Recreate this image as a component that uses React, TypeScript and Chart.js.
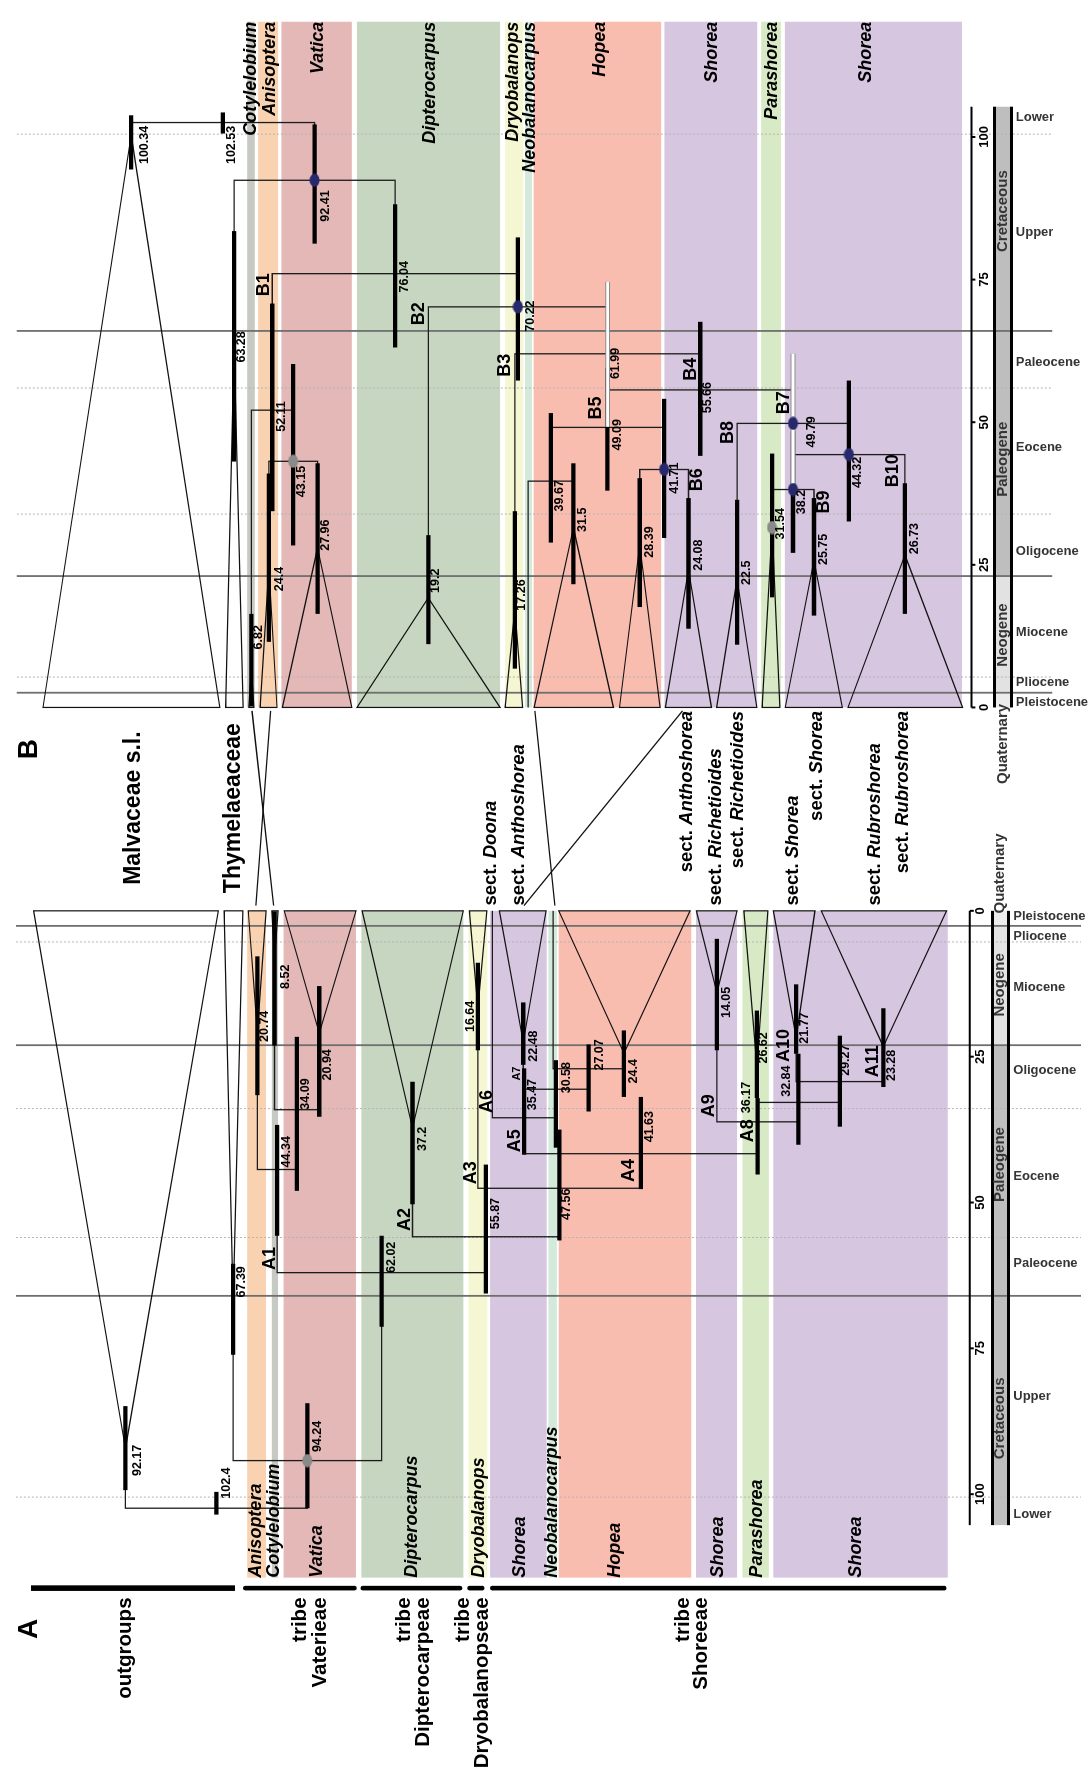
import React, { useEffect, useRef } from 'react';
import { Chart, registerables } from 'chart.js';

Chart.register(...registerables);

/* =============================== DATA (ages in Ma) =============================== */

// ---------- Panel A : collapsed clades (tips) ----------
const tipNamesA = ['Malvaceae s.l.', 'Thymelaeaceae', 'Anisoptera', 'Cotylelobium', 'Vatica', 'Dipterocarpus', 'Dryobalanops', 'Shorea sect. Doona', 'Shorea sect. Anthoshorea', 'Neobalanocarpus', 'Hopea', 'Shorea sect. Richetioides', 'Parashorea', 'Shorea sect. Shorea', 'Shorea sect. Rubroshorea'];
const tipCrownA = [92.17, 67.39, 20.74, 8.52, 20.94, 37.2, 16.64, null, 22.48, null, 24.4, 14.05, 26.62, 21.77, 23.28];
const tipHpdA = [[84.9, 99.3], [60.5, 76.1], [7.8, 31.6], [0.1, 23.1], [12.9, 35.3], [29.3, 50.3], [8.9, 23.9], null, [15.7, 26.4], null, [20.5, 31.9], [4.8, 23.9], [17.1, 32.1], [12.6, 24.5], [16.7, 30.2]];
// ---------- Panel A : internal nodes ----------
const nodeIdsA = ['root', 'n94', 'A1', 'vat', 'n34', 'A2', 'A3', 'A4', 'n35', 'n30', 'n27', 'n36', 'n32', 'n29'];
const nodeAgeA = [102.4, 94.24, 62.02, 44.34, 34.09, 55.87, 47.56, 41.63, 35.47, 30.58, 27.07, 36.17, 32.84, 29.27];
const nodeHpdA = [[99.6, 103.5], [84.4, 102.4], [55.7, 71.3], [36.7, 55.7], [21.6, 48.0], [43.5, 65.6], [37.5, 56.5], [31.9, 47.7], [27.0, 41.8], [25.6, 40.6], [22.9, 34.4], [32.1, 45.2], [24.5, 40.1], [21.4, 37.0]];
const nodeKidsA = [['t0', 'n94'], ['t1', 'A1'], ['vat', 'A2'], ['t2', 'n34'], ['t3', 't4'], ['t5', 'A3'], ['t6', 'A4'], ['n35', 'n36'], ['t7', 'n30'], ['t8', 'n27'], ['t9', 't10'], ['t11', 'n32'], ['t12', 'n29'], ['t13', 't14']];
const cladeNamesA = ['A1', 'A2', 'A3', 'A4', 'A5', 'A6', 'A7', 'A8', 'A9', 'A10', 'A11'];
const blueDotsA: string[] = [];
const greyDotsA = ['n94'];
const whiteBarsA: string[] = [];

// ---------- Panel B : collapsed clades (tips) ----------
const tipNamesB = ['Malvaceae s.l.', 'Thymelaeaceae', 'Cotylelobium', 'Anisoptera', 'Vatica', 'Dipterocarpus', 'Dryobalanops', 'Neobalanocarpus', 'Hopea I', 'Hopea II', 'Shorea sect. Anthoshorea', 'Shorea sect. Richetioides', 'Parashorea', 'Shorea sect. Shorea', 'Shorea sect. Rubroshorea'];
const tipCrownB = [100.34, 63.28, 6.82, 24.4, 27.96, 19.2, 17.26, null, 31.5, 28.39, 24.08, 22.5, 31.54, 25.75, 26.73];
const tipHpdB = [[94.3, 103.8], [43.1, 83.5], [0.2, 16.4], [11.5, 41.0], [16.4, 42.8], [11.1, 30.2], [6.8, 34.4], null, [21.6, 42.8], [17.6, 40.2], [13.8, 36.7], [11.0, 36.4], [19.3, 44.5], [16.1, 36.7], [16.4, 39.3]];
// ---------- Panel B : internal nodes ----------
const nodeIdsB = ['root', 'n92', 'B1', 'vat', 'n43', 'B2', 'B3', 'B4', 'B5', 'n39', 'n41', 'B7', 'n44', 'n38'];
const nodeAgeB = [102.53, 92.41, 76.04, 52.11, 43.15, 70.22, 61.99, 55.66, 49.09, 39.67, 41.71, 49.79, 44.32, 38.2];
const nodeHpdB = [[100.6, 104.3], [81.3, 102.2], [63.1, 88.2], [34.4, 70.8], [28.4, 60.2], [57.3, 82.4], [49.2, 74.6], [44.1, 67.6], [38.0, 59.5], [28.9, 51.6], [29.7, 54.1], [38.1, 62.0], [32.6, 57.3], [27.1, 48.5]];
const nodeKidsB = [['t0', 'n92'], ['t1', 'B1'], ['vat', 'B2'], ['t2', 'n43'], ['t3', 't4'], ['t5', 'B3'], ['t6', 'B4'], ['B5', 'B7'], ['n39', 'n41'], ['t7', 't8'], ['t9', 't10'], ['t11', 'n44'], ['n38', 't14'], ['t12', 't13']];
const cladeNamesB = ['B1', 'B2', 'B3', 'B4', 'B5', 'B6', 'B7', 'B8', 'B9', 'B10'];
const blueDotsB = ['n92', 'B2', 'n41', 'B7', 'n44', 'n38'];
const greyDotsB = ['n43', 't12'];
const whiteBarsB = ['B3', 'B7'];

// ---------- genera (coloured bands), sections, tribes ----------
const bandGeneraA = ['Anisoptera', 'Cotylelobium', 'Vatica', 'Dipterocarpus', 'Dryobalanops', 'Shorea', 'Neobalanocarpus', 'Hopea', 'Shorea', 'Parashorea', 'Shorea'];
const bandGeneraB = ['Cotylelobium', 'Anisoptera', 'Vatica', 'Dipterocarpus', 'Dryobalanops', 'Neobalanocarpus', 'Hopea', 'Shorea', 'Parashorea', 'Shorea'];
const sectionsA = ['Doona', 'Anthoshorea', 'Richetioides', 'Shorea', 'Rubroshorea'];
const sectionsB = ['Anthoshorea', 'Richetioides', 'Shorea', 'Rubroshorea'];
const familyLabels = ['Malvaceae s.l.', 'Thymelaeaceae'];
const linkedTaxa = ['Cotylelobium', 'Anisoptera', 'Neobalanocarpus', 'sect. Anthoshorea'];
const tribeLines = [['outgroups'], ['tribe', 'Vaterieae'], ['tribe', 'Dipterocarpeae'], ['tribe', 'Dryobalanopseae'], ['tribe', 'Shoreeae']];

// ---------- geological time scale ----------
const axisTicks = [0, 25, 50, 75, 100];
const periodNames = ['Quaternary', 'Neogene', 'Paleogene', 'Cretaceous'];
const periodSpans = [[0, 2.58], [2.58, 23.03], [23.03, 66], [66, 105.3]];
const periodLabelAges = [-6.4, 12.7, 43.5, 87.0];
const epochNames = ['Pleistocene', 'Pliocene', 'Miocene', 'Oligocene', 'Eocene', 'Paleocene', 'Upper', 'Lower'];
const epochLabelAges = [0.9, 4.4, 13.1, 27.4, 45.6, 60.4, 83.2, 103.5];
const majorBounds = [2.58, 23.03, 66];
const minorBounds = [5.33, 33.9, 56, 100.5];

/* =============================== LAYOUT & STYLE =============================== */
// The figure is drawn in landscape and turned 90 degrees; "lane" = position across the tree (0..1088).
const W = 1779, H = 1088;
const A_ZERO = 868, A_PPM = 5.88, B_ZERO = 1073, B_PPM = 5.75;
const A_MAX = A_ZERO / A_PPM, A_MIN = A_MAX - W / A_PPM;
const B_MIN = -B_ZERO / B_PPM, B_MAX = B_MIN + W / B_PPM;
const FF = '"Liberation Sans", Arial, Helvetica, sans-serif';

const genusColor: Record<string, string> = {
  Cotylelobium: '#c7cac3', Anisoptera: '#f9d3b1', Vatica: '#e3b8b6', Dipterocarpus: '#c7d6c0',
  Dryobalanops: '#f5f6d2', Neobalanocarpus: '#d3e9da', Hopea: '#f9bdb0', Shorea: '#d7c6e0', Parashorea: '#d8eac5',
};

const layoutA = {
  tipLane: [120, 229, 253.7, 271, 316.3, 410.8, 477, 491.7, 523, 553.3, 625, 719.2, 759.7, 799.5, 887.8],
  tipBase: [[27, 214], [220, 239], [244.4, 262.4], [268.3, 274.6], [280.9, 353.5], [359.7, 462.3], [468.5, 486], null, [498.8, 546], null, [559, 692], [698.4, 739.6], [746.5, 770.8], [776.3, 818.5], [824.8, 951.9]],
  tipLabel: [[132, 94.2], [238, 63.6], [260.7, 19.8], [282.2, 11.3], [325, 26.4], [420.6, 39.1], [469.2, 18.1], null, [533.3, 23.2], null, [635, 27.5], [728.5, 15.7], [766.6, 23.5], [808, 20.1], [896.4, 26.5]],
  nodeLabel: [[222.5, 98.1], [314.6, 90.1], [389.3, 59.4], [283.3, 41.3], [302.4, 31.4], [495.3, 51.9], [566.7, 50.3], [650.7, 37.0], [532, 31.5], [566.7, 28.6], [600, 24.7], [749.3, 32.0], [790, 29.2], [849.7, 25.6]],
  cladeLabel: [[266, 59.6], [403.2, 52.9], [470, 44.9], [630, 44.5], [515, 39.4], [486.7, 32.7], [516.7, 27.9], [751, 37.7], [711.2, 33.4], [787.4, 23.1], [877.4, 25.8]],
  cladeSmall: ['A7'],
  bandLanes: [[243.3, 262.4], [268.3, 274.6], [280.2, 353.5], [359, 462.3], [467.5, 486.6], [489.4, 546.7], [548.5, 557], [558.9, 693.2], [698, 739.6], [745, 771.8], [776.3, 953]],
  bandTop: 114.3,
  genusLane: [252, 271, 313.9, 410, 478, 519.6, 552, 616, 720, 759.7, 860],
  genusAlign: 'left',
  boundFrom: 9, boundTo: 1088,
  axisLane: 975.4, tickLane: 986.5, colL: 998.4, colR: 1014.5, periodLane: 1006.3, epochLane: 1019.4,
  sectLanes: [490, 519, 718, 796, 879], sectAge: -0.9, sectAlign: 'left',
};
const layoutB = {
  tipLane: [125.8, 230, 247.5, 265.2, 314.6, 426.8, 514.5, 528, 573.8, 641, 690.4, 739.6, 775, 817.5, 909.6],
  tipBase: [[36.5, 215.5], [221.4, 239.1], [245, 250], [256.5, 273.5], [279, 349.3], [354.5, 499.5], [504.7, 522.4], null, [534, 614.3], [620.5, 661.7], [666.9, 713.6], [718.8, 759.7], [764.9, 782.9], [788.4, 846.2], [852, 968]],
  tipLabel: [[139, 98.6], [237.4, 63.2], [254.8, 12.3], [276.3, 22.5], [323, 30.2], [434.5, 22.2], [521.4, 19.7], null, [583, 32.9], [650.6, 29.0], [700.8, 26.7], [749.3, 23.6], [784, 32.2], [827.2, 27.7], [919, 29.6]],
  nodeLabel: [[227.7, 98.6], [323, 87.9], [403, 75.5], [278, 51.0], [298.2, 39.6], [530, 68.6], [616.7, 60.3], [710, 54.3], [618.3, 47.8], [560, 37.1], [676.6, 40.2], [815, 48.3], [861.8, 41.2], [804.7, 36.0]],
  cladeLabel: [[260.7, 74.1], [417, 69.0], [505, 60.0], [693, 59.3], [596.7, 52.5], [699, 39.9], [787.4, 53.4], [730.2, 48.2], [828, 36.0], [898, 41.5]],
  cladeSmall: [] as string[],
  bandLanes: [[243.3, 251], [254.4, 274.6], [278, 349.3], [354.5, 499.5], [504.7, 523], [524.8, 531.8], [533.5, 662.7], [666, 760], [764, 784], [788, 967.4]],
  bandTop: 120.2,
  genusLane: [247.5, 266, 314.6, 429, 512.7, 530, 600.4, 714.7, 775.3, 870.5],
  genusAlign: 'right',
  boundFrom: 10, boundTo: 1059,
  axisLane: 977, tickLane: 990, colL: 1000.3, colR: 1017.6, periodLane: 1009, epochLane: 1022,
  sectLanes: [688.8, 740.3, 820.5, 908], sectAge: -0.6, sectAlign: 'right',
};
const familyLabelLanes = [128, 229.4];
const familyLabelAgeB = -17.65;
const linkLanes = [[248.2, 270], [267, 252.2], [534.8, 555], [684.4, 523.7]]; // [lane in B, lane in A]
const linkAgeB = -0.6, linkAgeA = -0.9;
const tribeBracketLanes = [[24.3, 231], [241.5, 352], [360.5, 459], [468.5, 481.5], [491.5, 949.5]];
const tribeLabelLanes = [[119.4], [297.5, 317], [403, 421.5], [462.5, 481.3], [685, 703.5]];
const tribeBracketAgeA = 116.1, tribeLabelAgeA = 117.7;
const panelLetter = [{ s: 'A', axis: 'xA', age: 123.1, lane: 22.7 }, { s: 'B', axis: 'xB', age: -7.3, lane: 22.7 }];

const panels = [
  { axis: 'xA', tipNames: tipNamesA, tipCrown: tipCrownA, tipHpd: tipHpdA, nodeIds: nodeIdsA, nodeAge: nodeAgeA, nodeHpd: nodeHpdA, nodeKids: nodeKidsA, cladeNames: cladeNamesA, blueDots: blueDotsA, greyDots: greyDotsA, whiteBars: whiteBarsA, bandGenera: bandGeneraA, sections: sectionsA, L: layoutA },
  { axis: 'xB', tipNames: tipNamesB, tipCrown: tipCrownB, tipHpd: tipHpdB, nodeIds: nodeIdsB, nodeAge: nodeAgeB, nodeHpd: nodeHpdB, nodeKids: nodeKidsB, cladeNames: cladeNamesB, blueDots: blueDotsB, greyDots: greyDotsB, whiteBars: whiteBarsB, bandGenera: bandGeneraB, sections: sectionsB, L: layoutB },
];

/* =============================== BUILDING =============================== */
function buildTree(p: any) {
  const lane: Record<string, number> = {};
  const age: Record<string, number> = {};
  p.L.tipLane.forEach((l: number, i: number) => { lane['t' + i] = l; age['t' + i] = p.tipCrown[i] == null ? 0 : p.tipCrown[i]; });
  p.nodeIds.forEach((id: string, i: number) => { age[id] = p.nodeAge[i]; });
  const laneOf = (id: string): number => {
    if (lane[id] != null) return lane[id];
    const k = p.nodeKids[p.nodeIds.indexOf(id)];
    lane[id] = (laneOf(k[0]) + laneOf(k[1])) / 2;
    return lane[id];
  };
  p.nodeIds.forEach((id: string) => laneOf(id));
  return { lane, age };
}

function dotImage(color: string) {
  const c = document.createElement('canvas');
  c.width = 14; c.height = 11;
  const g = c.getContext('2d') as CanvasRenderingContext2D;
  g.fillStyle = color;
  g.beginPath(); g.ellipse(7, 5.5, 6.6, 5.1, 0, 0, Math.PI * 2); g.fill();
  return c;
}

function panelDatasets(p: any) {
  const { lane, age } = buildTree(p);
  const ds: any[] = [];
  const line = (pts: any[], color: string, width: number, order: number) => ds.push({
    type: 'scatter', xAxisID: p.axis, yAxisID: 'y', data: pts, showLine: true, pointRadius: 0, pointHoverRadius: 0,
    borderColor: color, backgroundColor: color, borderWidth: width, fill: false, order, borderCapStyle: 'butt', borderJoinStyle: 'miter',
  });
  p.nodeIds.forEach((id: string, i: number) => {
    const [a, b] = p.nodeKids[i];
    const t = p.nodeAge[i];
    line([{ x: age[a], y: lane[a] }, { x: t, y: lane[a] }, { x: t, y: lane[b] }, { x: age[b], y: lane[b] }], '#1c1c1c', 1.3, 6);
  });
  const bar = (id: string, h: number[]) => {
    const pts = [{ x: h[0], y: lane[id] }, { x: h[1], y: lane[id] }];
    if (p.whiteBars.includes(id)) {
      line(pts, '#8d8d8d', 4.8, 3);
      line(pts.map((q) => ({ ...q })), '#ffffff', 2.8, 2);
    } else line(pts, '#000000', 4.3, 4);
  };
  p.tipHpd.forEach((h: number[] | null, i: number) => { if (h) bar('t' + i, h); });
  p.nodeHpd.forEach((h: number[], i: number) => bar(p.nodeIds[i], h));
  const dots = (ids: string[], color: string) => {
    if (!ids.length) return;
    ds.push({ type: 'scatter', xAxisID: p.axis, yAxisID: 'y', data: ids.map((id) => ({ x: age[id], y: lane[id] })), showLine: false, pointStyle: dotImage(color), pointRadius: 6, order: 1 });
  };
  dots(p.blueDots, '#28296c');
  dots(p.greyDots, '#8a8a8a');
  return ds;
}

/* =============================== PLUGINS =============================== */
const backdrop = {
  id: 'backdrop',
  beforeDraw(chart: any) {
    const ctx = chart.ctx;
    ctx.save(); ctx.fillStyle = '#ffffff'; ctx.fillRect(0, 0, chart.width, chart.height); ctx.restore();
  },
  beforeDatasetsDraw(chart: any) {
    const ctx: CanvasRenderingContext2D = chart.ctx;
    const y = chart.scales.y;
    ctx.save();
    panels.forEach((p: any) => {
      const x = chart.scales[p.axis];
      const L = p.L;
      // coloured genus bands
      p.bandGenera.forEach((g: string, i: number) => {
        const [l0, l1] = L.bandLanes[i];
        const X0 = x.getPixelForValue(0), X1 = x.getPixelForValue(L.bandTop);
        ctx.fillStyle = genusColor[g];
        ctx.fillRect(Math.min(X0, X1), y.getPixelForValue(l0), Math.abs(X1 - X0), y.getPixelForValue(l1) - y.getPixelForValue(l0));
      });
      // period fills
      const periodFill = ['#ececec', '#e2e2e2', '#bebebe', '#bebebe'];
      periodSpans.forEach((s, i) => {
        const X0 = x.getPixelForValue(s[0]), X1 = x.getPixelForValue(s[1]);
        ctx.fillStyle = periodFill[i];
        const Y0 = y.getPixelForValue(L.colL), Y1 = y.getPixelForValue(L.colR);
        ctx.fillRect(Math.min(X0, X1), Y0, Math.abs(X1 - X0), Y1 - Y0);
      });
      // geological boundaries
      const Yf = y.getPixelForValue(L.boundFrom), Yt = y.getPixelForValue(L.boundTo);
      ctx.lineWidth = 1; ctx.strokeStyle = '#b3b3b3'; ctx.setLineDash([2, 2]);
      minorBounds.forEach((b) => { const X = x.getPixelForValue(b); ctx.beginPath(); ctx.moveTo(X, Yf); ctx.lineTo(X, Yt); ctx.stroke(); });
      ctx.setLineDash([]); ctx.lineWidth = 1.8; ctx.strokeStyle = '#6f6f6f';
      majorBounds.forEach((b) => { const X = x.getPixelForValue(b); ctx.beginPath(); ctx.moveTo(X, Yf); ctx.lineTo(X, Yt); ctx.stroke(); });
      // time axis & period column borders
      const X0 = x.getPixelForValue(0), Xm = x.getPixelForValue(periodSpans[3][1]);
      ctx.strokeStyle = '#000'; ctx.lineWidth = 2;
      ctx.beginPath(); ctx.moveTo(X0, y.getPixelForValue(L.axisLane)); ctx.lineTo(Xm, y.getPixelForValue(L.axisLane)); ctx.stroke();
      axisTicks.forEach((t) => { const X = x.getPixelForValue(t); ctx.beginPath(); ctx.moveTo(X, y.getPixelForValue(L.axisLane)); ctx.lineTo(X, y.getPixelForValue(L.axisLane + 4)); ctx.stroke(); });
      ctx.lineWidth = 3;
      [L.colL, L.colR].forEach((c: number) => { ctx.beginPath(); ctx.moveTo(X0, y.getPixelForValue(c)); ctx.lineTo(Xm, y.getPixelForValue(c)); ctx.stroke(); });
      // collapsed clades (triangles)
      ctx.lineWidth = 1.2; ctx.strokeStyle = '#111';
      p.tipCrown.forEach((c: number | null, i: number) => {
        const base = L.tipBase[i];
        if (c == null || !base) return;
        ctx.beginPath();
        ctx.moveTo(x.getPixelForValue(0), y.getPixelForValue(base[0]));
        ctx.lineTo(x.getPixelForValue(c), y.getPixelForValue(L.tipLane[i]));
        ctx.lineTo(x.getPixelForValue(0), y.getPixelForValue(base[1]));
        ctx.closePath();
        if (p.tipNames[i] === 'Cotylelobium') { ctx.fillStyle = '#a9aaa6'; ctx.fill(); }
        ctx.stroke();
      });
    });
    // links between the two chronograms
    const xA = chart.scales.xA, xB = chart.scales.xB;
    ctx.strokeStyle = '#111'; ctx.lineWidth = 1.3;
    linkedTaxa.forEach((_n, i) => {
      const [lb, la] = linkLanes[i];
      ctx.beginPath();
      ctx.moveTo(xB.getPixelForValue(linkAgeB), y.getPixelForValue(lb));
      ctx.lineTo(xA.getPixelForValue(linkAgeA), y.getPixelForValue(la));
      ctx.stroke();
    });
    // tribe brackets
    ctx.strokeStyle = '#000';
    tribeLines.forEach((_t, i) => {
      const [l0, l1] = tribeBracketLanes[i];
      ctx.lineWidth = i === 0 ? 5.6 : 4.6;
      ctx.lineCap = i === 0 ? 'butt' : 'round';
      const X = xA.getPixelForValue(tribeBracketAgeA);
      ctx.beginPath(); ctx.moveTo(X, y.getPixelForValue(l0)); ctx.lineTo(X, y.getPixelForValue(l1)); ctx.stroke();
    });
    ctx.restore();
  },
};

function put(ctx: CanvasRenderingContext2D, s: string, X: number, Y: number, font: string, align: any = 'center', color = '#000', rot = 0) {
  ctx.save();
  ctx.font = font; ctx.fillStyle = color; ctx.textAlign = align; ctx.textBaseline = 'middle';
  ctx.translate(X, Y); if (rot) ctx.rotate(rot);
  ctx.fillText(s, 0, 0);
  ctx.restore();
}

const texts = {
  id: 'texts',
  afterDatasetsDraw(chart: any) {
    const ctx: CanvasRenderingContext2D = chart.ctx;
    const y = chart.scales.y;
    const fAge = `bold 12.5px ${FF}`;
    panels.forEach((p: any) => {
      const x = chart.scales[p.axis];
      const L = p.L;
      const P = (age: number, lane: number) => [x.getPixelForValue(age), y.getPixelForValue(lane)];
      // age labels
      p.tipCrown.forEach((a: number | null, i: number) => {
        const pos = L.tipLabel[i]; if (a == null || !pos) return;
        const [X, Y] = P(pos[1], pos[0]); put(ctx, String(a), X, Y, fAge);
      });
      p.nodeAge.forEach((a: number, i: number) => {
        const pos = L.nodeLabel[i]; const [X, Y] = P(pos[1], pos[0]); put(ctx, String(a), X, Y, fAge);
      });
      // clade labels
      p.cladeNames.forEach((c: string, i: number) => {
        const pos = L.cladeLabel[i]; const [X, Y] = P(pos[1], pos[0]);
        put(ctx, c, X, Y, `bold ${L.cladeSmall.includes(c) ? 11 : 18}px ${FF}`);
      });
      // genus labels
      p.bandGenera.forEach((g: string, i: number) => {
        const [X, Y] = P(L.bandTop, L.genusLane[i]);
        put(ctx, g, X, Y, `italic bold 18px ${FF}`, L.genusAlign);
      });
      // section labels
      const f1 = `bold 18.5px ${FF}`, f2 = `italic bold 18.5px ${FF}`;
      p.sections.forEach((s: string, i: number) => {
        const [X, Y] = P(L.sectAge, L.sectLanes[i]);
        ctx.save(); ctx.font = f1; const w1 = ctx.measureText('sect. ').width; ctx.font = f2; const w2 = ctx.measureText(s).width; ctx.restore();
        const start = L.sectAlign === 'left' ? X : X - w1 - w2;
        put(ctx, 'sect. ', start, Y, f1, 'left');
        put(ctx, s, start + w1, Y, f2, 'left');
      });
      // time scale texts
      axisTicks.forEach((t) => { const [X, Y] = P(t, L.tickLane); put(ctx, String(t), X, Y, `bold 13px ${FF}`); });
      periodNames.forEach((n, i) => { const [X, Y] = P(periodLabelAges[i], L.periodLane); put(ctx, n, X, Y, `bold 15px ${FF}`, 'center', '#353535'); });
      epochNames.forEach((n, i) => { const [X, Y] = P(epochLabelAges[i], L.epochLane); put(ctx, n, X, Y, `bold 13px ${FF}`, 'left', '#353535', Math.PI / 2); });
    });
    const xA = chart.scales.xA, xB = chart.scales.xB;
    familyLabels.forEach((f, i) => put(ctx, f, xB.getPixelForValue(familyLabelAgeB), y.getPixelForValue(familyLabelLanes[i]), `bold 23px ${FF}`));
    tribeLines.forEach((lines, i) => lines.forEach((s, j) => put(ctx, s, xA.getPixelForValue(tribeLabelAgeA), y.getPixelForValue(tribeLabelLanes[i][j]), `bold 20.5px ${FF}`, 'right')));
    panelLetter.forEach((l) => put(ctx, l.s, chart.scales[l.axis].getPixelForValue(l.age), y.getPixelForValue(l.lane), `bold 28px ${FF}`));
  },
};

/* =============================== COMPONENT =============================== */
export default function App() {
  const ref = useRef<HTMLCanvasElement>(null);
  useEffect(() => {
    const canvas = ref.current;
    if (!canvas) return;
    const datasets = panels.flatMap((p) => panelDatasets(p));
    const chart = new Chart(canvas, {
      type: 'scatter',
      data: { datasets },
      options: {
        responsive: false,
        animation: false,
        events: [],
        layout: { padding: 0 },
        plugins: { legend: { display: false }, tooltip: { enabled: false }, title: { display: false } },
        scales: {
          x: { type: 'linear', display: false, min: 0, max: 1 },
          xA: { type: 'linear', axis: 'x', position: 'bottom', reverse: true, min: A_MIN, max: A_MAX, display: false },
          xB: { type: 'linear', axis: 'x', position: 'bottom', min: B_MIN, max: B_MAX, display: false },
          y: { type: 'linear', reverse: true, min: 0, max: H, display: false },
        },
      } as any,
      plugins: [backdrop, texts],
    } as any);
    return () => chart.destroy();
  }, []);
  return (
    <div style={{ position: 'absolute', left: 0, top: 0, width: H, height: W, overflow: 'hidden', background: '#fff' }}>
      <div style={{ position: 'absolute', left: 0, top: 0, width: W, height: H, transformOrigin: '0 0', transform: `translateY(${W}px) rotate(-90deg)` }}>
        <canvas ref={ref} width={W} height={H} style={{ display: 'block' }} />
      </div>
    </div>
  );
}
